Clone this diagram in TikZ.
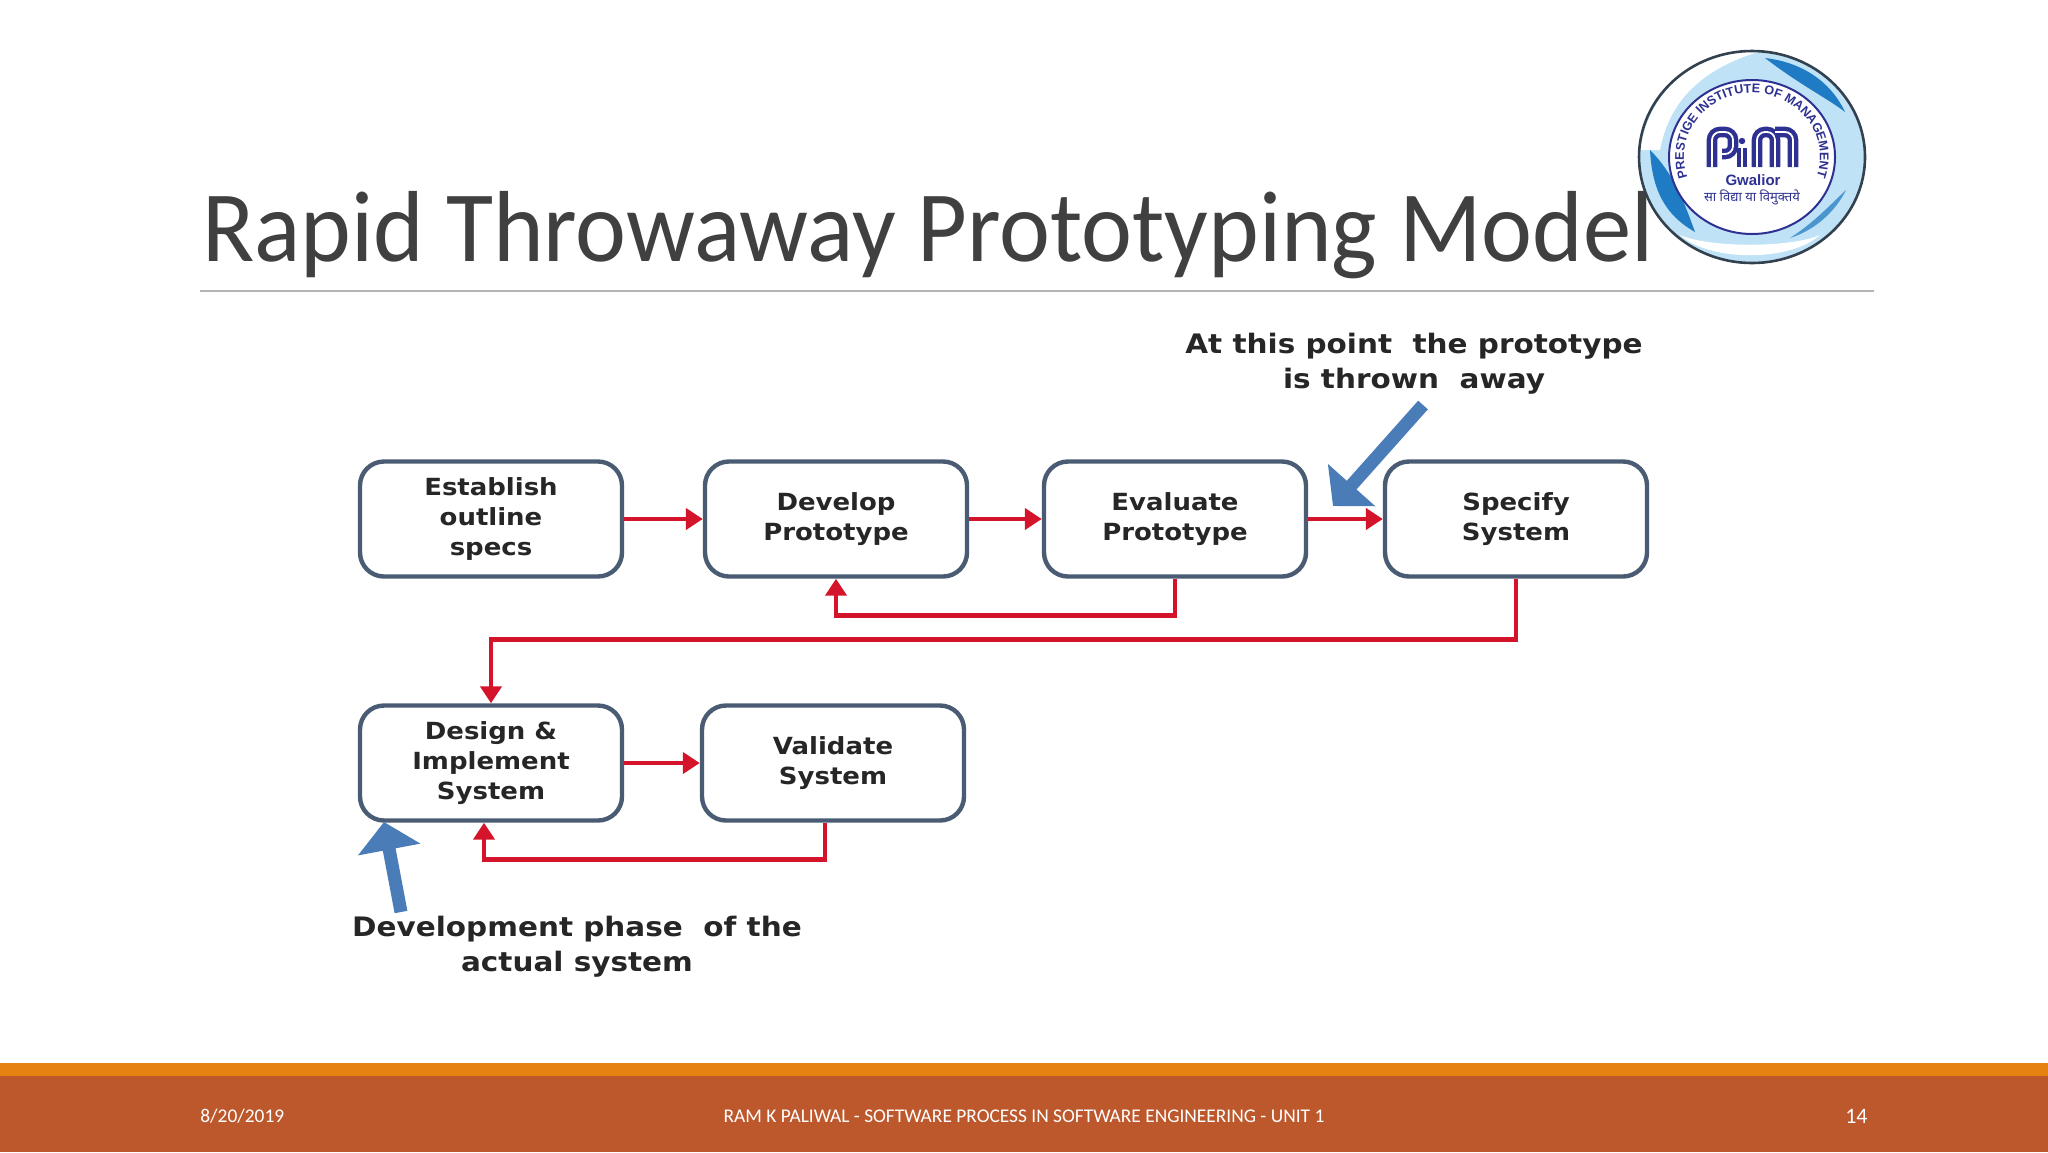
\documentclass[tikz,border=0pt]{standalone}
\usepackage{fontspec}
\setmainfont{Carlito}
\newfontfamily\titlefont[FakeStretch=0.955]{Carlito}
\newfontfamily\boxfont[FakeStretch=1.1]{DejaVu Sans}
\newfontfamily\logofont{Liberation Sans}
\newfontfamily\hindifont[Script=Devanagari]{Noto Sans}
\usetikzlibrary{arrows.meta,decorations.text}
\definecolor{titlegray}{HTML}{404040}
\definecolor{rulegray}{HTML}{B4B4B4}
\definecolor{bandorange}{HTML}{E48312}
\definecolor{bandrust}{HTML}{BD582C}
\definecolor{boxslate}{HTML}{4A5C74}
\definecolor{linkred}{HTML}{D3142A}
\definecolor{callblue}{HTML}{4A7DB8}
\definecolor{logopurple}{HTML}{2E3192}
\definecolor{logoblue}{HTML}{1F7CC4}
\definecolor{logosky}{HTML}{BFE2F6}
\definecolor{logoring}{HTML}{33414F}
\begin{document}
\begin{tikzpicture}[
  x=0.5pt, y=-0.5pt,
  stepbox/.style={draw=boxslate, line width=2.2pt, rounded corners=12pt, fill=white,
    minimum width=131pt, minimum height=57.5pt, inner sep=0pt, align=center,
    font=\boxfont\bfseries\fontsize{11.8}{15.2}\selectfont, text=black!85},
  note/.style={align=center, inner sep=0pt, font=\boxfont\bfseries\fontsize{13.4}{17.6}\selectfont, text=black!85},
  link/.style={draw=linkred, line width=2.3pt, -{Triangle[length=8.5pt,width=10.5pt]}},
  callout/.style={draw=callblue, line width=6.5pt, -{Triangle[length=14pt,width=31pt]}},
  footer/.style={inner sep=0pt, text=white, font=\fontsize{9.7}{11}\selectfont},
  pimline/.style={draw=logopurple, line width=2.2pt, double=white, double distance=0.9pt, rounded corners=4pt}
]
  \useasboundingbox (0,0) rectangle (2048,1152);

  % Footer bands
  \fill[bandorange] (0,1063) rectangle (2048,1076);
  \fill[bandrust] (0,1076) rectangle (2048,1152);
  \node[footer, anchor=west] (date) at (200,1116) {8/20/2019};
  \node[footer] (credit) at (1024,1116) {RAM K PALIWAL - SOFTWARE PROCESS IN SOFTWARE ENGINEERING -  UNIT 1};
  \node[footer, anchor=east, font=\fontsize{11}{12}\selectfont] (pagenum) at (1868,1116) {14};

  % Title
  \node[anchor=base west, inner sep=0pt, text=titlegray, font=\titlefont\fontsize{50.5}{54}\selectfont] (title) at (202,261)
    {Rapid Throwaway Prototyping Model};
  \draw[rulegray, line width=0.7pt] (200,291) -- (1874,291);

  % First row
  \node[stepbox] (outline) at (491,519) {Establish\\outline\\specs};
  \node[stepbox] (develop) at (836,519) {Develop\\Prototype};
  \node[stepbox] (evaluate) at (1175,519) {Evaluate\\Prototype};
  \node[stepbox] (specify) at (1516,519) {Specify\\System};

  % Second row
  \node[stepbox] (design) at (491,763) {Design \&\\Implement\\System};
  \node[stepbox] (validate) at (833,763) {Validate\\System};

  % Red links
  \draw[link] (outline) -- (develop);
  \draw[link] (develop) -- (evaluate);
  \draw[link] (evaluate) -- (specify);
  \draw[link] (evaluate.south) -- ++(0,37) -| (develop.south);
  \draw[link] (specify.south) -- ++(0,61) -| (design.north);
  \draw[link] (design) -- (validate);
  \draw[link] ([xshift=-4pt]validate.south) -- ++(0,37) -| ([xshift=-3.5pt]design.south);

  % Notes with blue arrows
  \node[note] (thrown) at (1414,364) {At this point\ \ the prototype\\is thrown\ \ away};
  \node[note] (phase) at (577,947) {Development phase\ \ of the\\actual system};
  \coordinate (thrownstart) at (1423,405);
  \coordinate (thrownend) at (1333,506);
  \coordinate (phasestart) at (401,912);
  \coordinate (phaseend) at (384,822);
  \draw[callout] (thrownstart) -- (thrownend);
  \draw[callout] (phasestart) -- (phaseend);

  % Logo
  \coordinate (logo) at (1752,157);
  \begin{scope}
    \clip (logo) ellipse (56.5pt and 53pt);
    \fill[logosky] (1630,40) rectangle (1875,270);
    \fill[white] (1640,150) .. controls (1650,85) and (1700,50) .. (1765,50) .. controls (1710,65) and (1670,95) .. (1660,150) -- cycle;
    \fill[white] (1680,235) .. controls (1710,262) and (1790,262) .. (1820,235) .. controls (1790,248) and (1710,248) .. (1680,235) -- cycle;
    \fill[logoblue] (1765,58) .. controls (1800,62) and (1830,80) .. (1845,112) .. controls (1830,100) and (1800,85) .. (1765,58) -- cycle;
    \fill[logoblue] (1650,150) .. controls (1652,190) and (1665,215) .. (1695,232) .. controls (1685,205) and (1675,175) .. (1650,150) -- cycle;
    \fill[logoblue!80] (1790,238) .. controls (1815,230) and (1835,212) .. (1846,190) .. controls (1835,200) and (1815,222) .. (1790,238) -- cycle;
  \end{scope}
  \draw[logoring, line width=1.3pt] (logo) ellipse (56.5pt and 53pt);
  \draw[logopurple, fill=white, line width=1pt] (logo) ellipse (41.5pt and 38.5pt);
  \path[decorate, decoration={text along path, text align=center,
      text={|\logofont\bfseries\fontsize{6.3}{7}\selectfont\color{logopurple}|PRESTIGE INSTITUTE OF MANAGEMENT}}]
    ([shift={(198:34pt and 32pt)}]logo) arc[start angle=198, end angle=-18, x radius=34pt, y radius=32pt];
  \draw[pimline] (1712,167) -- (1712,132) -- (1733,132) -- (1733,154) -- (1722,154);
  \draw[pimline] (1742,167) -- (1742,148);
  \fill[logopurple] (1742,141) circle (1.6pt);
  \draw[pimline] (1757,167) -- (1757,132) -- (1775,132) -- (1775,167);
  \draw[pimline] (1775,132) -- (1793,132) -- (1793,167);
  \node[inner sep=0pt, text=logopurple, font=\logofont\bfseries\fontsize{7.5}{8}\selectfont] (campus) at (1753,180) {Gwalior};
  \node[inner sep=0pt, text=logopurple, font=\hindifont\fontsize{6.5}{8}\selectfont] (motto) at (1752,197) {सा विद्या या विमुक्तये};
\end{tikzpicture}
\end{document}
